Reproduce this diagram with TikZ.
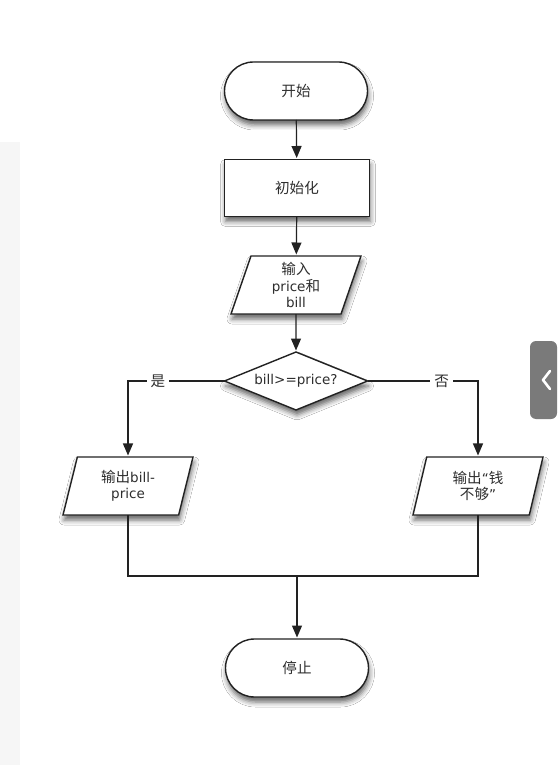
\documentclass[tikz,border=0pt]{standalone}
\usepackage{fontspec}
\setmainfont{DejaVu Sans}
\newfontfamily\cjk[Scale=1.08]{Noto Sans CJK SC}
\usetikzlibrary{shapes.geometric,shapes.misc,arrows.meta,shadows.blur}
\definecolor{txt}{HTML}{2E2E2E}
\definecolor{ln}{HTML}{222222}
\definecolor{tabgray}{HTML}{7A7A7A}
\definecolor{strip}{HTML}{F6F6F6}
\begin{document}
\begin{tikzpicture}[x=1pt,y=-1pt,
  base/.style={draw=ln, line width=1.4pt, fill=white, text=txt,
    font=\fontsize{13.5}{16.5}\selectfont, align=center, inner sep=2pt, outer sep=0pt,
    blur shadow={shadow xshift=1pt, shadow yshift=-5pt, shadow blur radius=5pt, shadow opacity=60}},
  term/.style={base, rounded rectangle, minimum width=147pt, minimum height=58pt},
  proc/.style={base, rectangle, minimum width=145pt, minimum height=57pt},
  io/.style={base, trapezium, trapezium left angle=68, trapezium right angle=112,
    trapezium stretches body, minimum width=130pt, minimum height=58pt},
  decision/.style={base, diamond, aspect=2.47, minimum width=143pt, minimum height=58pt, inner sep=0pt},
  flow/.style={draw=ln, line width=1.2pt},
  arr/.style={flow, -{Triangle[width=10pt,length=12pt]}, shorten >=1.5pt},
  lab/.style={fill=white, text=txt, font=\fontsize{13.5}{16.5}\selectfont, inner sep=4pt}]
\useasboundingbox (0,0) rectangle (557,783);
\fill[white] (0,0) rectangle (557,783);
\fill[strip] (0,142) rectangle (20,765);
% side tab
\fill[tabgray, rounded corners=6pt] (557,341) -- (530,341) -- (530,419) -- (557,419) -- cycle;
\draw[white, line width=2.6pt, line cap=round, line join=round] (550,371) -- (543,380) -- (550,389);

\node[term] (start) at (296,91) {{\cjk 开始}};
\node[proc] (init) at (297,188) {{\cjk 初始化}};
\node[io] (input) at (296,285) {{\cjk 输入}\\price{\cjk 和}\\bill};
\node[decision] (dec) at (296,381) {bill>=price?};
\node[io] (outL) at (128,486) {{\cjk 输出}bill-\\price};
\node[io] (outR) at (478,486) {{\cjk 输出}“{\cjk 钱}\\{\cjk 不够}”};
\node[term] (stop) at (297,668) {{\cjk 停止}};
\coordinate (m) at (297,576);

\draw[arr] (start) -- (init);
\draw[arr] (init) -- (input);
\draw[arr] (input) -- (dec);
\draw[arr] (dec.west) -| node[lab, pos=0.345] {{\cjk 是}} (outL.north);
\draw[arr] (dec.east) -| node[lab, pos=0.335] {{\cjk 否}} (outR.north);
\draw[flow] (outL.south) |- (m) -| (outR.south);
\draw[arr] (m) -- (stop);
\end{tikzpicture}
\end{document}
